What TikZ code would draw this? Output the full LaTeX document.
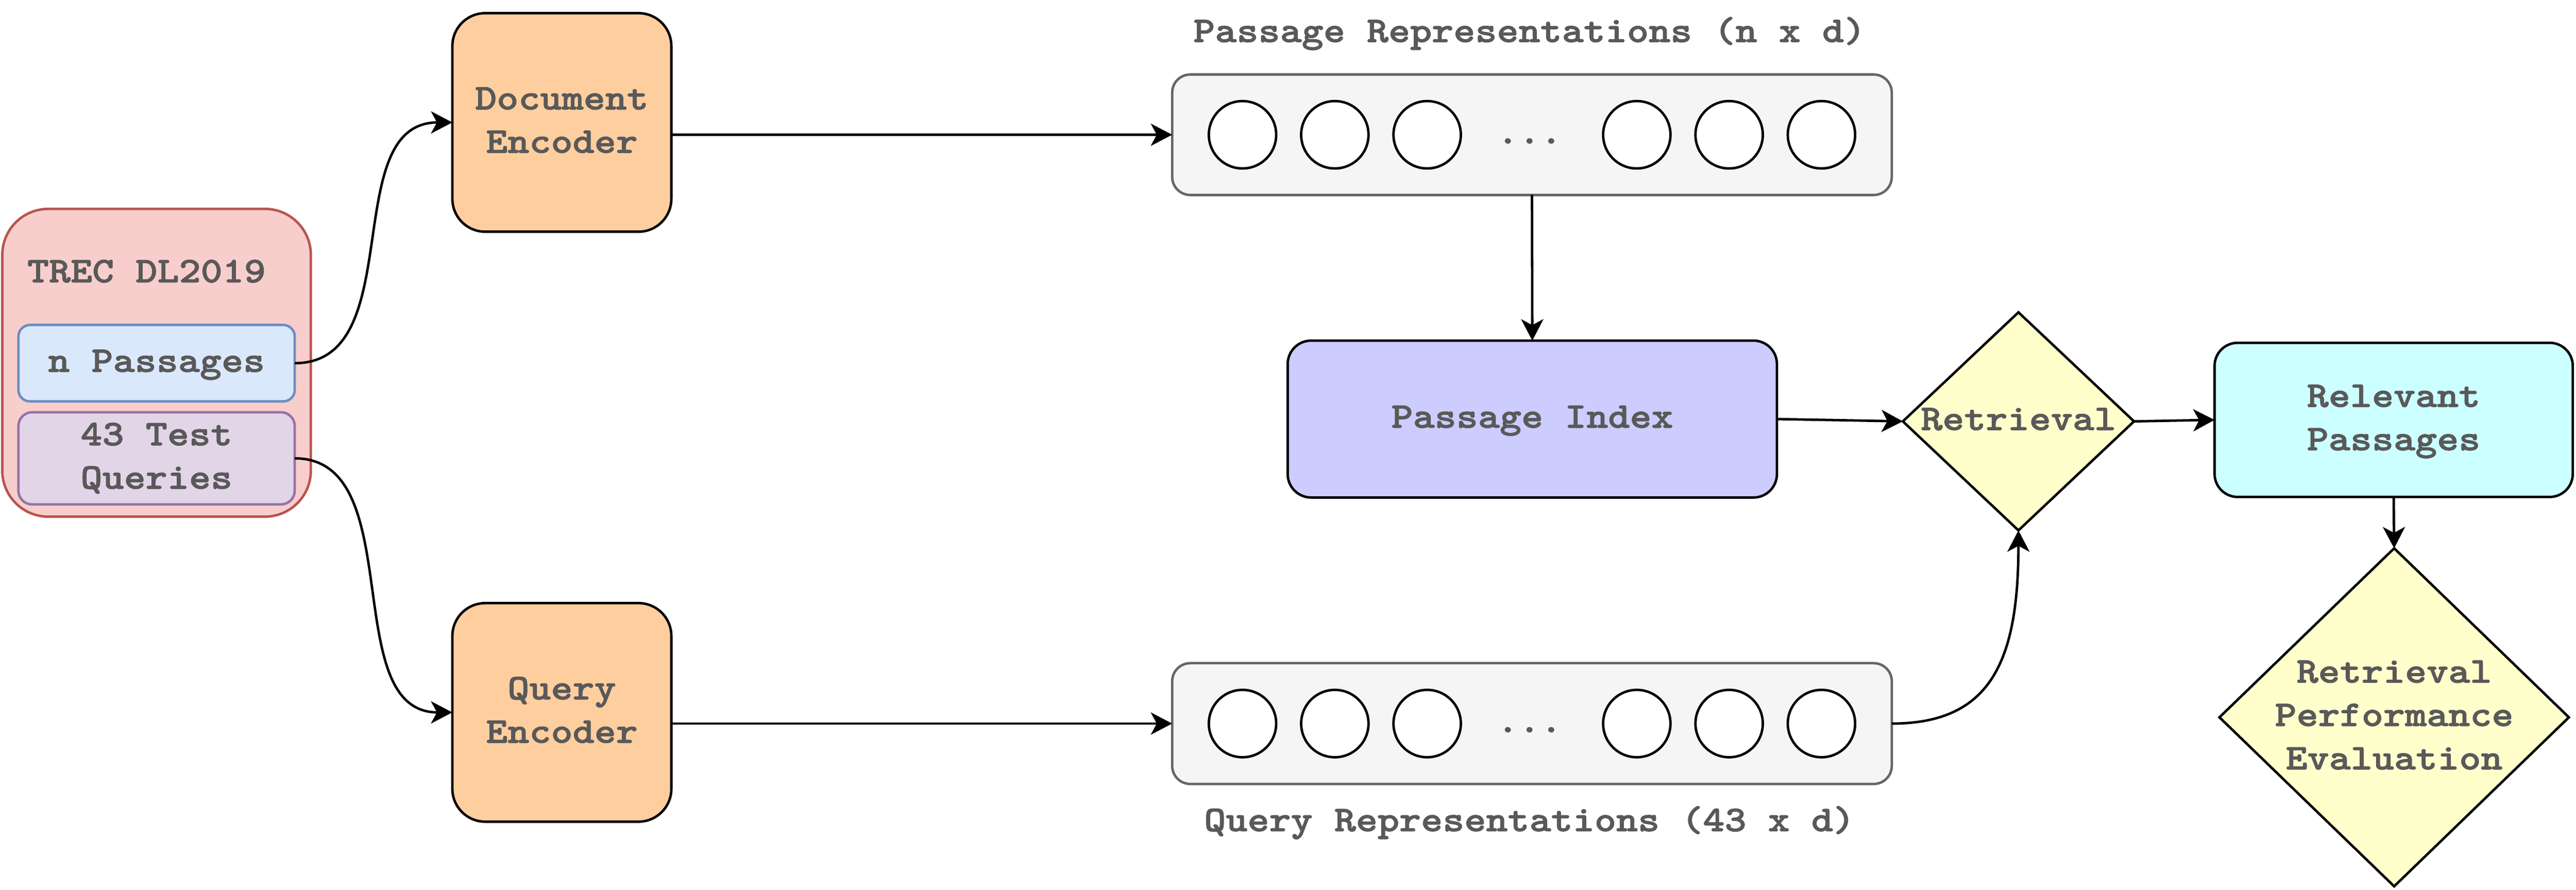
\documentclass[tikz,border=0pt]{standalone}
\usepackage{fontspec}
\newfontfamily\cmono{lmmonolt10-bold.otf}[FakeStretch=1.143,FakeBold=1.6]
\usetikzlibrary{arrows.meta,shapes.geometric}
\definecolor{txt}{HTML}{595959}
\definecolor{trecfill}{HTML}{F8CECC}
\definecolor{trecdraw}{HTML}{B85450}
\definecolor{npfill}{HTML}{DAE8FC}
\definecolor{npdraw}{HTML}{6C8EBF}
\definecolor{tqfill}{HTML}{E1D5E7}
\definecolor{tqdraw}{HTML}{9673A6}
\definecolor{encfill}{HTML}{FFCE9F}
\definecolor{repfill}{HTML}{F5F5F5}
\definecolor{repdraw}{HTML}{666666}
\definecolor{idxfill}{HTML}{CCCCFF}
\definecolor{yelfill}{HTML}{FFFFCC}
\definecolor{cyanfill}{HTML}{CCFFFF}
\begin{document}
\begin{tikzpicture}[x=1pt,y=-1pt,
  every node/.style={inner sep=0pt, outer sep=0pt},
  lbl/.style={font=\cmono\fontsize{22}{26.4}\selectfont, text=txt, align=center},
  box/.style={lbl, draw, line width=1.5pt, rectangle},
  dia/.style={diamond, draw, line width=1.5pt, fill=yelfill},
  conn/.style={line width=1.5pt, -{Stealth[length=13pt,width=13.5pt,inset=3.6pt]}},
  circ/.style={circle, draw, line width=1.5pt, fill=white, minimum size=41pt},
]
\useasboundingbox (0,0) rectangle (1568,541.4);

% TREC DL2019 group
\node[box, fill=trecfill, draw=trecdraw, rounded corners=28pt,
      minimum width=187.8pt, minimum height=187.3pt] (trec) at (95.3,220.75) {};
\node[lbl, anchor=west] (trect) at (16.6,166.5) {\strut TREC DL2019};
\node[box, fill=npfill, draw=npdraw, rounded corners=7pt,
      minimum width=168.2pt, minimum height=46.5pt] (np) at (95.3,221) {\strut n Passages};
\node[box, fill=tqfill, draw=tqdraw, rounded corners=8.4pt,
      minimum width=168.2pt, minimum height=56.1pt] (tq) at (95.3,278.9) {\strut 43 Test\\\strut Queries};

% Encoders
\node[box, fill=encfill, rounded corners=20pt,
      minimum width=133.3pt, minimum height=133pt] (docenc) at (342,74.5) {\strut Document\\\strut Encoder};
\node[box, fill=encfill, rounded corners=20pt,
      minimum width=133.3pt, minimum height=133pt] (qenc) at (342,433.5) {\strut Query\\\strut Encoder};

% Representation boxes
\node[lbl] (ptitle) at (931,20.3) {\strut Passage Representations (n x d)};
\node[box, fill=repfill, draw=repdraw, rounded corners=11pt,
      minimum width=438pt, minimum height=73.3pt] (prep) at (932.5,82) {};
\node[circ] (p1) at (756.3,82) {};
\node[circ] (p2) at (812.5,82) {};
\node[circ] (p3) at (868.7,82) {};
\node[lbl] (pdots) at (931,82) {\strut ...};
\node[circ] (p4) at (996.3,82) {};
\node[circ] (p5) at (1052.5,82) {};
\node[circ] (p6) at (1108.7,82) {};

\node[box, fill=repfill, draw=repdraw, rounded corners=11pt,
      minimum width=438pt, minimum height=73.5pt] (qrep) at (932.5,440.3) {};
\node[circ] (q1) at (756.3,440.3) {};
\node[circ] (q2) at (812.5,440.3) {};
\node[circ] (q3) at (868.7,440.3) {};
\node[lbl] (qdots) at (931,440.3) {\strut ...};
\node[circ] (q4) at (996.3,440.3) {};
\node[circ] (q5) at (1052.5,440.3) {};
\node[circ] (q6) at (1108.7,440.3) {};
\node[lbl] (qtitle) at (931,500.5) {\strut Query Representations (43 x d)};

% Index, retrieval, results
\node[box, fill=idxfill, rounded corners=14.3pt,
      minimum width=297.8pt, minimum height=95.5pt] (pidx) at (932.7,255) {\strut Passage Index};
\node[dia, minimum width=140.7pt, minimum height=132.7pt] (ret) at (1228.6,256.4) {};
\node[lbl] (retlbl) at (ret.center) {\strut Retrieval};
\node[box, fill=cyanfill, rounded corners=14pt,
      minimum width=218pt, minimum height=93.8pt] (rel) at (1457,255.5) {\strut Relevant\\\strut Passages};
\node[dia, minimum width=212.7pt, minimum height=205.7pt] (rpe) at (1457.3,436.5) {};
\node[lbl] (rpelbl) at (rpe.center) {\strut Retrieval\\\strut Performance\\\strut Evaluation};

% Connectors
\draw[conn] (np.east) .. controls +(70,0) and +(-70,0) .. (docenc.west);
\draw[conn] (tq.east) .. controls +(70,0) and +(-70,0) .. (qenc.west);
\draw[conn] (docenc.east |- prep.west) -- (prep.west);
\draw[conn] (qenc.east |- qrep.west) -- (qrep.west);
\draw[conn] (prep.south) -- (pidx.north);
\draw[conn] (pidx.east) -- (ret.west);
\draw[conn] (qrep.east) .. controls +(60,0) and +(0,80) .. (ret.south);
\draw[conn] (ret.east) -- (rel.west);
\draw[conn] (rel.south) -- (rpe.north);
\end{tikzpicture}
\end{document}
